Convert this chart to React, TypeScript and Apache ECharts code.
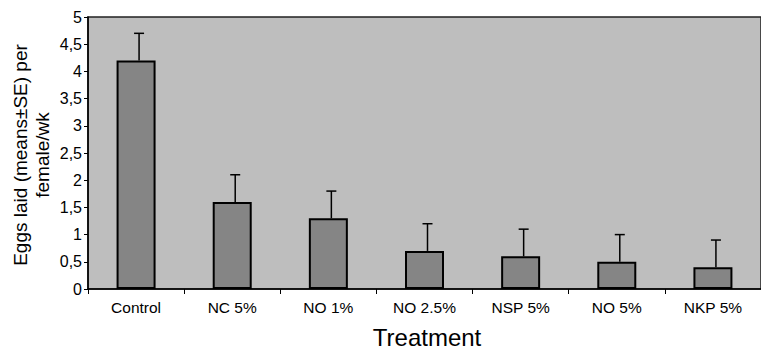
import React, { useEffect, useRef } from "react";
import * as echarts from "echarts";

const categories = ["Control", "NC 5%", "NO 1%", "NO 2.5%", "NSP 5%", "NO 5%", "NKP 5%"];
const means = [4.2, 1.6, 1.3, 0.7, 0.6, 0.5, 0.4];
const errors = [0.5, 0.5, 0.5, 0.5, 0.5, 0.5, 0.5];

export default function App() {
  const ref = useRef<HTMLDivElement>(null);
  useEffect(() => {
    if (!ref.current) return;
    const chart = echarts.init(ref.current, null, { renderer: "svg" });
    const font = "'Liberation Sans', Arial, sans-serif";
    chart.setOption({
      animation: false,
      grid: {
        left: 88,
        top: 17,
        width: 681,
        height: 272,
        show: true,
        backgroundColor: "#bebebe",
        borderColor: "#222",
        borderWidth: 1.5,
      },
      xAxis: {
        type: "category",
        data: categories,
        boundaryGap: true,
        axisLine: { lineStyle: { color: "#000", width: 1.5 } },
        axisTick: { show: true, length: 5, lineStyle: { color: "#000" } },
        axisLabel: { color: "#000", fontSize: 15.5, fontFamily: font, margin: 10 },
      },
      yAxis: {
        type: "value",
        min: 0,
        max: 5,
        interval: 0.5,
        splitLine: { show: false },
        axisLine: { show: true, lineStyle: { color: "#000", width: 1.5 } },
        axisTick: { show: true, length: 4, lineStyle: { color: "#000" } },
        axisLabel: {
          color: "#000",
          fontSize: 16,
          fontFamily: font,
          margin: 6,
          formatter: (v: number) => String(v).replace(".", ","),
        },
      },
      graphic: [
        {
          type: "text",
          x: 31,
          y: 155,
          rotation: Math.PI / 2,
          style: {
            text: "Eggs laid (means±SE) per\nfemale/wk",
            font: `19px ${font}`,
            fill: "#000",
            textAlign: "center",
            textVerticalAlign: "middle",
            lineHeight: 22,
          },
        },
        {
          type: "text",
          x: 427,
          y: 337,
          style: {
            text: "Treatment",
            font: `24px ${font}`,
            fill: "#000",
            textAlign: "center",
            textVerticalAlign: "middle",
          },
        },
      ],
      series: [
        {
          type: "bar",
          data: means,
          barWidth: 39,
          itemStyle: { color: "#858585", borderColor: "#000", borderWidth: 2 },
        },
        {
          type: "custom",
          data: means.map((m, i) => [i, m, m + errors[i]]),
          renderItem: (params: any, api: any) => {
            const low = api.coord([api.value(0), api.value(1)]);
            const high = api.coord([api.value(0), api.value(2)]);
            const x = low[0] + 3;
            return {
              type: "group",
              children: [
                {
                  type: "line",
                  shape: { x1: x, y1: low[1], x2: x, y2: high[1] },
                  style: { stroke: "#000", lineWidth: 1.5 },
                },
                {
                  type: "line",
                  shape: { x1: x - 5, y1: high[1], x2: x + 5, y2: high[1] },
                  style: { stroke: "#000", lineWidth: 1.5 },
                },
              ],
            };
          },
          z: 3,
        },
      ],
    });
    return () => chart.dispose();
  }, []);
  return (
    <div
      ref={ref}
      style={{ position: "fixed", left: 0, top: 0, width: 761, height: 356, background: "#fff" }}
    />
  );
}
